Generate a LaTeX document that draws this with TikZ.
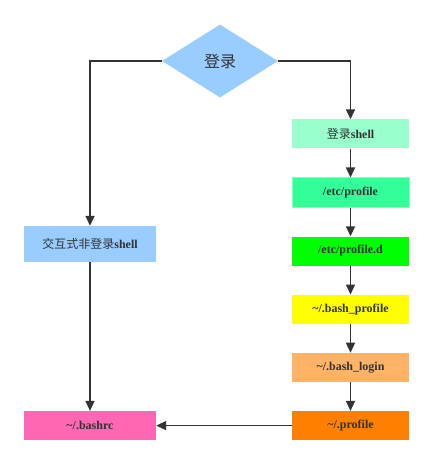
\documentclass[tikz,border=0pt]{standalone}
\usepackage{fontspec}
\setmainfont{Liberation Serif}
\newfontfamily\cjk{Noto Sans CJK SC}
\usetikzlibrary{shapes.geometric,arrows.meta,positioning}
\definecolor{loginblue}{HTML}{99CCFF}
\definecolor{shellmint}{HTML}{99FFCC}
\definecolor{profgreen}{HTML}{33FF99}
\definecolor{profdgreen}{HTML}{00FF00}
\definecolor{bashyellow}{HTML}{FFFF00}
\definecolor{loginorange}{HTML}{FFB366}
\definecolor{profileorange}{HTML}{FF8000}
\definecolor{bashrcpink}{HTML}{FF66B3}
\definecolor{linegray}{HTML}{333333}

\begin{document}
\begin{tikzpicture}[x=1pt, y=1pt, >={Triangle[length=10pt,width=9pt]}, node distance=28.8pt,
    box/.style={rectangle, minimum width=117pt, minimum height=29pt, inner sep=2pt,
        font=\fontsize{12}{14}\selectfont\bfseries, text=linegray},
    wide/.style={box, minimum width=132pt},
    decision/.style={diamond, aspect=1.6, minimum width=116pt, minimum height=73pt, inner sep=0pt,
        fill=loginblue, font=\fontsize{16}{18}\selectfont\cjk, text=linegray},
    flow/.style={->, line width=1.5pt, draw=linegray}]
    \useasboundingbox (0,0) rectangle (433,-462);

    % top decision
    \node[decision] (login) at (220,-61) {登录};

    % login shell chain
    \node[box, fill=shellmint] (shell) at (350.5,-134) {{\cjk\mdseries 登录}shell};
    \node[box, fill=profgreen, draw=profgreen!60!white, line width=1pt, below=of shell] (etcprof) {/etc/profile};
    \node[box, fill=profdgreen, below=of etcprof] (profd) {/etc/profile.d};
    \node[box, fill=bashyellow, below=of profd] (bashprof) {\textasciitilde/.bash\_profile};
    \node[box, fill=loginorange, below=of bashprof] (bashlogin) {\textasciitilde/.bash\_login};
    \node[box, fill=profileorange, below=of bashlogin] (profile) {\textasciitilde/.profile};

    % non-login shell
    \node[wide, fill=loginblue, minimum height=36pt] (inter) at (90,-244) {{\cjk\mdseries 交互式非登录}shell};
    \node[wide, fill=bashrcpink] (bashrc) at (inter |- profile) {\textasciitilde/.bashrc};

    \draw[flow] (login.west) -| (inter.north);
    \draw[flow] (login.east) -| (shell.north);
    \draw[flow] (shell) -- (etcprof);
    \draw[flow] (etcprof) -- (profd);
    \draw[flow] (profd) -- (bashprof);
    \draw[flow] (bashprof) -- (bashlogin);
    \draw[flow] (bashlogin) -- (profile);
    \draw[flow] (inter) -- (bashrc);
    \draw[flow] (profile) -- (bashrc);
\end{tikzpicture}
\end{document}
